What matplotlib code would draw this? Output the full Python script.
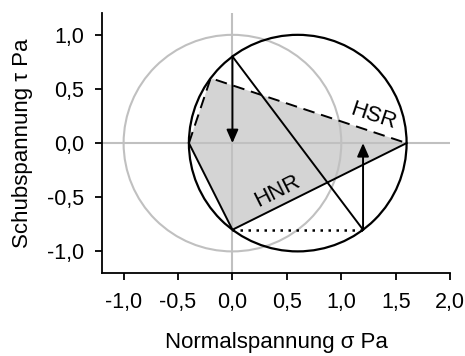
import numpy as np
import matplotlib
matplotlib.use("Agg")
import matplotlib.pyplot as plt
from matplotlib.patches import Circle, Polygon

plt.rcParams['font.family'] = ['Liberation Sans', 'DejaVu Sans']

# Mohr circles (center sigma, radius)
unit_circle = (0.0, 1.0)
stress_circle = (0.6, 1.0)

# Stress states (sigma, tau)
point_a = (0.0, 0.8)
point_b = (1.2, -0.8)
pole_left = (-0.4, 0.0)
pole_right = (1.6, 0.0)
hsr_corner = (-0.2, 0.6)
hnr_corner = (0.0, -0.8)

x_ticks = [-1.0, -0.5, 0.0, 0.5, 1.0, 1.5, 2.0]
y_ticks = [-1.0, -0.5, 0.0, 0.5, 1.0]

fig = plt.figure(figsize=(4.65, 3.56), dpi=100)
ax = fig.add_axes([0.219, 0.233, 0.749, 0.73])
ax.set_xlim(-1.2, 2.0)
ax.set_ylim(-1.2, 1.2)

gray = '#c0c0c0'
ax.axhline(0, color=gray, lw=1.5, zorder=1)
ax.axvline(0, color=gray, lw=1.5, zorder=1)

# shaded region between the two hypotheses
poly = Polygon([pole_left, hsr_corner, pole_right, hnr_corner], closed=True,
               facecolor='#d4d4d4', edgecolor='none', zorder=0)
ax.add_patch(poly)

ax.add_patch(Circle((unit_circle[0], 0), unit_circle[1], fill=False,
                    edgecolor=gray, lw=1.5, zorder=2))
ax.add_patch(Circle((stress_circle[0], 0), stress_circle[1], fill=False,
                    edgecolor='black', lw=1.6, zorder=3))

# HSR boundary (dashed)
ax.plot([pole_left[0], hsr_corner[0], pole_right[0]],
        [pole_left[1], hsr_corner[1], pole_right[1]],
        color='black', lw=1.4, ls=(0, (6, 3.5)), zorder=4)
# HNR boundary (solid)
ax.plot([pole_right[0], hnr_corner[0], pole_left[0]],
        [pole_right[1], hnr_corner[1], pole_left[1]],
        color='black', lw=1.4, zorder=4)
# diameter
ax.plot([point_a[0], point_b[0]], [point_a[1], point_b[1]],
        color='black', lw=1.4, zorder=4)
# dotted connection
ax.plot([hnr_corner[0], point_b[0]], [hnr_corner[1], point_b[1]],
        color='black', lw=1.8, ls=(0, (1, 2.2)), zorder=4)

# arrows
for (x0, y0) in (point_a, point_b):
    ax.annotate('', xy=(x0, 0.0), xytext=(x0, y0),
                arrowprops=dict(arrowstyle='-|>,head_length=0.5,head_width=0.22',
                                color='black', lw=1.4,
                                mutation_scale=16, shrinkA=0, shrinkB=0),
                zorder=5)

ax.text(1.29, 0.25, 'HSR', rotation=-18.4, ha='center', va='center',
        fontsize=16, rotation_mode='anchor')
ax.text(0.41, -0.44, 'HNR', rotation=26.6, ha='center', va='center',
        fontsize=16, rotation_mode='anchor')

ax.set_xticks(x_ticks)
ax.set_yticks(y_ticks)
ax.set_xticklabels([f'{v:.1f}'.replace('.', ',') for v in x_ticks])
ax.set_yticklabels([f'{v:.1f}'.replace('.', ',') for v in y_ticks])
ax.tick_params(direction='out', length=5, width=1.3, labelsize=15.5)
ax.tick_params(axis='x', pad=9)
ax.tick_params(axis='y', pad=8)
for s in ('top', 'right'):
    ax.spines[s].set_visible(False)
for s in ('left', 'bottom'):
    ax.spines[s].set_linewidth(1.3)

ax.set_xlabel('Normalspannung σ Pa', fontsize=16, labelpad=13)
ax.set_ylabel('Schubspannung τ Pa', fontsize=16, labelpad=10)

fig.savefig('out.png', dpi=100)
